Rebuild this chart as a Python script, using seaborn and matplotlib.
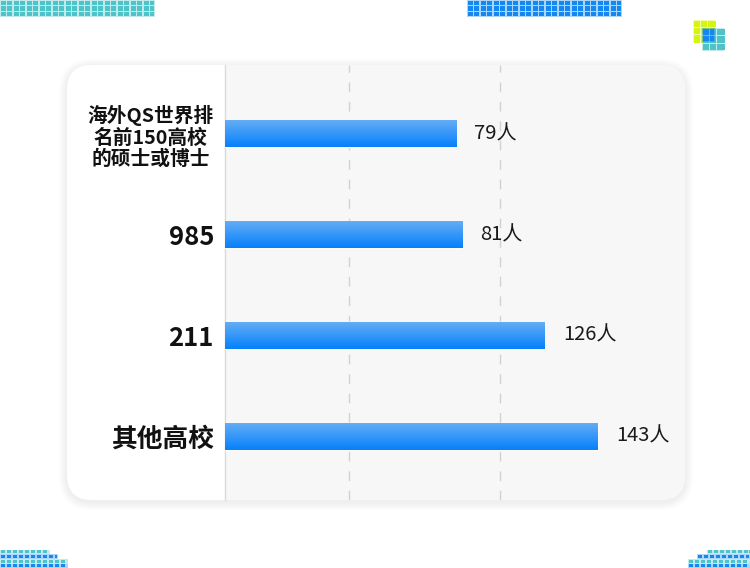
import numpy as np
import pandas as pd
import matplotlib
matplotlib.use("Agg")
import matplotlib.pyplot as plt
import seaborn as sns
from matplotlib.patches import FancyBboxPatch, Rectangle
from matplotlib.colors import LinearSegmentedColormap

# ---------------- data ----------------
categories = ["海外QS世界排\n名前150高校\n的硕士或博士", "985", "211", "其他高校"]
counts = [79, 81, 126, 143]                 # numbers printed on the chart
bar_lengths = [88.6, 90.9, 122.7, 143.0]     # bar extents as drawn in the picture
label_texts = [f"{c}人" for c in counts]
grid_values = [47.7, 105.3]
x_max = 176.4

sns.set_style("white")
plt.rcParams['font.family'] = ['Noto Sans CJK SC', 'DejaVu Sans']

W, H = 750, 568
fig = plt.figure(figsize=(7.5, 5.68), dpi=100)
fig.patch.set_facecolor('white')
bg = fig.add_axes([0, 0, 1, 1], zorder=0)
bg.set_xlim(0, W)
bg.set_ylim(H, 0)
bg.axis('off')

# ---------------- card ----------------
cx0, cy0, cx1, cy1 = 67, 65, 685, 500
for i in range(8):
    e = 1 + i * 1.0
    sh = FancyBboxPatch((cx0 - e, cy0 - e + 2), cx1 - cx0 + 2 * e, cy1 - cy0 + 2 * e,
                        boxstyle=f"round,pad=0,rounding_size={25 + e}",
                        fc='black', ec='none', alpha=0.006)
    bg.add_patch(sh)
card = FancyBboxPatch((cx0, cy0), cx1 - cx0, cy1 - cy0,
                      boxstyle="round,pad=0,rounding_size=25", fc='white', ec='none')
bg.add_patch(card)
gray = Rectangle((225, cy0), cx1 - 225, cy1 - cy0, fc='#f7f7f7', ec='none')
bg.add_patch(gray)
gray.set_clip_path(card)
bg.plot([224.5, 224.5], [cy0, cy1], color='#dadada', lw=1)


# ---------------- pixel decorations ----------------
def pixel_block(x0, y0, x1, y1, cw, ch, color):
    bg.add_patch(Rectangle((x0, y0), x1 - x0, y1 - y0, fc=color, ec='none', alpha=0.35))
    for x in np.arange(x0, x1 - 0.01, cw):
        for y in np.arange(y0, y1 - 0.01, ch):
            w = min(cw, x1 - x)
            h = min(ch, y1 - y)
            bg.add_patch(Rectangle((x + 0.6, y + 0.6), w - 1.2, h - 1.2, fc=color, ec='none'))


TEAL = '#4ec4c9'
BLUE = '#1587f0'
LIME = '#d6f412'
pixel_block(0, 0, 155, 17, 6.5, 5.7, TEAL)
pixel_block(467, 0, 622, 17, 6.5, 5.7, BLUE)
pixel_block(693, 20, 715, 42, 7.33, 7.33, LIME)
pixel_block(702, 28, 724, 51, 7.33, 7.67, TEAL)
pixel_block(702, 28, 715, 42, 7.33, 7.67, BLUE)
# bottom-left stairs
pixel_block(0, 549.5, 50, 554, 6, 4.5, TEAL)
pixel_block(0, 554, 58, 559, 6, 5, BLUE)
pixel_block(0, 559, 68, 563.5, 6, 4.5, TEAL)
pixel_block(0, 563.5, 68, 568, 6, 4.5, BLUE)
# bottom-right stairs
pixel_block(707, 549.5, 750, 554, 6, 4.5, TEAL)
pixel_block(697, 554, 750, 559, 6, 5, BLUE)
pixel_block(688, 559, 750, 563.5, 6, 4.5, TEAL)
pixel_block(688, 563.5, 750, 568, 6, 4.5, BLUE)

# ---------------- bars ----------------
ax = fig.add_axes([225 / W, 1 - cy1 / H, (cx1 - 225) / W, (cy1 - cy0) / H], zorder=1)
ax.patch.set_alpha(0)
df = pd.DataFrame({"category": categories, "length": bar_lengths})
sns.barplot(data=df, x="length", y="category", orient="h", color="#0a80fb",
            width=0.268, saturation=1, ax=ax)

cmap = LinearSegmentedColormap.from_list("bar", ["#63adf5", "#0680fb"])
grad = np.linspace(0, 1, 64).reshape(-1, 1)
for p in ax.patches:
    x0, y0 = p.get_x(), p.get_y()
    w, h = p.get_width(), p.get_height()
    im = ax.imshow(grad, extent=(x0, x0 + w, y0 + h, y0), cmap=cmap, aspect='auto',
                   origin='upper', zorder=p.get_zorder() + 0.1, interpolation='bilinear')
    im.set_clip_path(p)

for g in grid_values:
    ax.axvline(g, color='#d2d2d2', lw=1, ls=(0, (7, 7)), zorder=0.5)

ax.set_xlim(0, x_max)
ax.set_ylim(3.635, -0.685)
for s in ax.spines.values():
    s.set_visible(False)
ax.set_xticks([])
ax.set_xlabel('')
ax.set_ylabel('')
ax.tick_params(axis='y', length=0, pad=8)
for i, lbl in enumerate(ax.get_yticklabels()):
    lbl.set_fontweight('bold')
    lbl.set_color('#111111')
    lbl.set_multialignment('center')
    if i == 0:
        lbl.set_fontsize(14.2)
        lbl.set_linespacing(1.12)
    else:
        lbl.set_fontsize(18.5)

for i, (v, t) in enumerate(zip(bar_lengths, label_texts)):
    ax.annotate(t, xy=(v, i), xytext=(13, 0), textcoords='offset points',
                va='center', ha='left', fontsize=14.5, color='#1a1a1a')

fig.savefig("out.png", dpi=100, facecolor='white')
